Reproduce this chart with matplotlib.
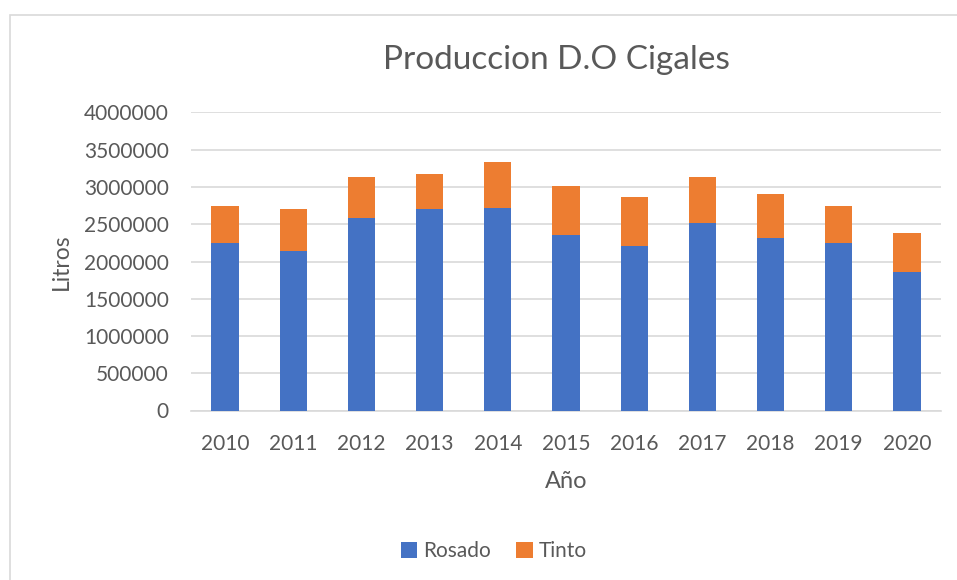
import matplotlib.pyplot as plt
import matplotlib.patches as mpatches
import numpy as np

plt.rcParams['font.family'] = ['Lato', 'DejaVu Sans']

years = ["2010", "2011", "2012", "2013", "2014", "2015", "2016", "2017", "2018", "2019", "2020"]
rosado = [2244000, 2137000, 2580000, 2700000, 2714000, 2352000, 2212000, 2521000, 2320000, 2244000, 1863000]
total = [2750000, 2705000, 3138000, 3174000, 3332000, 3013000, 2862000, 3138000, 2906000, 2741000, 2387000]
tinto = [t - r for t, r in zip(total, rosado)]

W, H = 957, 580
fig = plt.figure(figsize=(W / 100, H / 100), dpi=100)

# chart frame (Excel chart area border)
fig.patches.append(mpatches.Rectangle((10 / W, -0.1), 1.2, (H - 15) / H + 0.1,
                                      transform=fig.transFigure, fill=False,
                                      edgecolor="#d9d9d9", linewidth=1.2))

ax = fig.add_axes([191 / W, (H - 410.5) / H, 750 / W, 298 / H])
x = np.arange(len(years))
ax.bar(x, rosado, width=0.4, color="#4472C4", label="Rosado", zorder=3)
ax.bar(x, tinto, width=0.4, bottom=rosado, color="#ED7D31", label="Tinto", zorder=3)

ax.set_xlim(-0.5, len(years) - 0.5)
ax.set_ylim(0, 4000000)
ax.set_yticks(np.arange(0, 4000001, 500000))
ax.set_yticklabels([str(v) for v in range(0, 4000001, 500000)])
ax.set_xticks(x)
ax.set_xticklabels(years)
ax.tick_params(length=0, labelsize=15, colors="#595959")
ax.tick_params(axis="y", pad=16)
ax.tick_params(axis="x", pad=17)
ax.grid(axis="y", color="#d9d9d9", linewidth=1.2, zorder=0)
for s in ["top", "right", "left"]:
    ax.spines[s].set_visible(False)
ax.spines["bottom"].set_color("#d9d9d9")
ax.spines["bottom"].set_linewidth(1.2)

fig.text(556 / W, 1 - 60 / H, "Produccion D.O Cigales", ha="center", va="center",
         fontsize=24, color="#595959")
fig.text(61 / W, 1 - 262 / H, "Litros", rotation=90, ha="center", va="center",
         fontsize=16.5, color="#595959")
fig.text(566 / W, 1 - 481 / H, "Año", ha="center", va="center",
         fontsize=17, color="#595959")

handles, labels = ax.get_legend_handles_labels()
fig.legend(handles, labels, loc="center", bbox_to_anchor=(494 / W, 1 - 551 / H),
           ncol=2, frameon=False, fontsize=15, handlelength=0.8, handleheight=0.8,
           handletextpad=0.3, columnspacing=1.2, labelcolor="#595959")

fig.savefig("out.png", dpi=100)
